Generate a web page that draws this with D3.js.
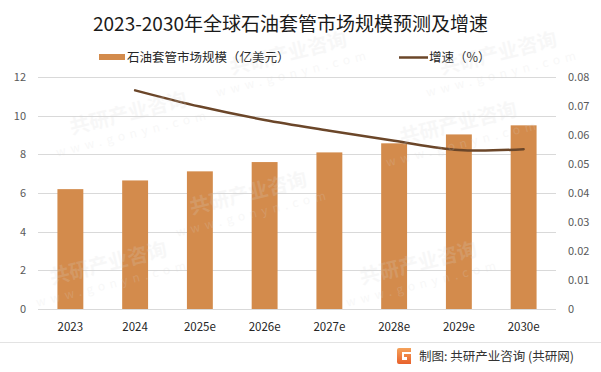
<!DOCTYPE html>
<html>
<head>
<meta charset="utf-8">
<script src="https://cdn.jsdelivr.net/npm/d3@7/dist/d3.min.js"></script>
<style>
  html, body { margin: 0; padding: 0; background: #fff; }
  svg { display: block; font-family: "Noto Sans CJK SC", "Microsoft YaHei", sans-serif; }
</style>
</head>
<body>
<svg id="chart" width="601" height="372"></svg>
<script>
const categories = ["2023", "2024", "2025e", "2026e", "2027e", "2028e", "2029e", "2030e"];
const marketSize = [6.2, 6.65, 7.12, 7.6, 8.1, 8.57, 9.03, 9.5];
const growthRate = [null, 0.0754, 0.0698, 0.0652, 0.0615, 0.058, 0.0548, 0.0551];
const leftTicks = [0, 2, 4, 6, 8, 10, 12];
const rightTicks = [0, 0.01, 0.02, 0.03, 0.04, 0.05, 0.06, 0.07, 0.08];
const titleText = "2023-2030年全球石油套管市场规模预测及增速";
const barLegend = "石油套管市场规模（亿美元）";
const lineLegend = "增速（%）";
const sourceText = "制图: 共研产业咨询 (共研网)";

const svg = d3.select("#chart");
const W = 601, H = 372;
const plot = { left: 38, right: 556, top: 77, bottom: 309 };
const barColor = "#d38b4c";
const lineColor = "#6b4629";

const x = d3.scaleBand().domain(categories).range([plot.left, plot.right]).paddingInner(0.6).paddingOuter(0.3);
const yL = d3.scaleLinear().domain([0, 12]).range([plot.bottom, plot.top]);
const yR = d3.scaleLinear().domain([0, 0.08]).range([plot.bottom, plot.top]);

svg.append("rect").attr("width", W).attr("height", H).attr("fill", "#fff");

// gridlines
const grid = svg.append("g");
grid.selectAll("line").data(leftTicks).join("line")
  .attr("x1", plot.left).attr("x2", plot.right)
  .attr("y1", d => Math.round(yL(d)) + 0.5).attr("y2", d => Math.round(yL(d)) + 0.5)
  .attr("stroke", "#d9d9d9").attr("stroke-width", 1);

// bars
svg.append("g").selectAll("rect").data(categories).join("rect")
  .attr("x", d => x(d))
  .attr("width", x.bandwidth())
  .attr("y", (d, i) => yL(marketSize[i]))
  .attr("height", (d, i) => yL(0) - yL(marketSize[i]))
  .attr("fill", barColor);

// line
const lineData = categories.map((c, i) => ({ c, v: growthRate[i] })).filter(d => d.v != null);
const line = d3.line()
  .x(d => x(d.c) + x.bandwidth() / 2)
  .y(d => yR(d.v))
  .curve(d3.curveCatmullRom.alpha(0.5));
svg.append("path").datum(lineData)
  .attr("d", line)
  .attr("fill", "none")
  .attr("stroke", lineColor)
  .attr("stroke-width", 2.5)
  .attr("stroke-linecap", "round");

// left axis
const axL = svg.append("g").attr("transform", `translate(${plot.left - 12},0)`)
  .call(d3.axisLeft(yL).tickValues(leftTicks).tickSize(0).tickPadding(0).tickFormat(d3.format("d")));
axL.select(".domain").remove();
axL.selectAll("text").attr("font-size", 11).attr("fill", "#595959").attr("font-family", "'Noto Sans CJK SC', sans-serif");

// right axis
const axR = svg.append("g").attr("transform", `translate(${plot.right + 12},0)`)
  .call(d3.axisRight(yR).tickValues(rightTicks).tickSize(0).tickPadding(0).tickFormat(d => d === 0 ? "0" : d3.format(".2f")(d)));
axR.select(".domain").remove();
axR.selectAll("text").attr("font-size", 11).attr("fill", "#595959").attr("font-family", "'Noto Sans CJK SC', sans-serif");

// x axis
const axX = svg.append("g").attr("transform", `translate(0,${plot.bottom + 12})`)
  .call(d3.axisBottom(x).tickSize(0).tickPadding(0));
axX.select(".domain").remove();
axX.selectAll("text").attr("font-size", 11.5).attr("fill", "#262626").attr("dy", "0.85em").attr("font-family", "'Noto Sans CJK SC', sans-serif");

// title
svg.append("text").attr("x", 290.5).attr("y", 31).attr("text-anchor", "middle")
  .attr("font-size", 19).attr("fill", "#1a1a1a").text(titleText);

// legend
svg.append("rect").attr("x", 99).attr("y", 54).attr("width", 26).attr("height", 6).attr("fill", barColor);
svg.append("text").attr("x", 127).attr("y", 62).attr("font-size", 12.5).attr("fill", "#262626").text(barLegend);
svg.append("line").attr("x1", 399).attr("x2", 428).attr("y1", 57.5).attr("y2", 57.5)
  .attr("stroke", lineColor).attr("stroke-width", 2.5);
svg.append("text").attr("x", 429).attr("y", 62).attr("font-size", 12.5).attr("fill", "#262626").text(lineLegend);

// footer separator
svg.append("line").attr("x1", 0).attr("x2", W).attr("y1", 342.5).attr("y2", 342.5)
  .attr("stroke", "#e3e3e3").attr("stroke-width", 1);

// logo
const logo = svg.append("g").attr("transform", "translate(397,348)");
const lg = svg.append("defs").append("linearGradient").attr("id", "lg").attr("x1", 0).attr("y1", 0).attr("x2", 0).attr("y2", 1);
lg.append("stop").attr("offset", "0%").attr("stop-color", "#f5a25a");
lg.append("stop").attr("offset", "100%").attr("stop-color", "#e8612c");
logo.append("path")
  .attr("d", "M2,0 H14 V4 H5 V12 H10 V9 H7 V6 H14 V16 H2 Q0,16 0,14 V2 Q0,0 2,0 Z")
  .attr("fill", "url(#lg)");
svg.append("text").attr("x", 419).attr("y", 361).attr("font-size", 12.5).attr("fill", "#333").text(sourceText);

// faint watermarks (kept fully inside the canvas)
const wm = svg.append("g").attr("pointer-events", "none");
const wmPos = [[130, 120], [290, 60], [250, 200], [460, 130], [110, 270], [420, 270], [500, 60]];
wmPos.forEach(([px, py]) => {
  const g = wm.append("g").attr("transform", `translate(${px},${py}) rotate(-14)`);
  g.append("text").attr("font-size", 20).attr("font-weight", "bold").attr("fill", "#d8d8d8").attr("opacity", 0.18)
    .attr("text-anchor", "middle").text("共研产业咨询");
  g.append("text").attr("y", 18).attr("font-size", 12).attr("letter-spacing", 5).attr("fill", "#d8d8d8").attr("opacity", 0.18)
    .attr("text-anchor", "middle").text("www.gonyn.com");
});
</script>
</body>
</html>
